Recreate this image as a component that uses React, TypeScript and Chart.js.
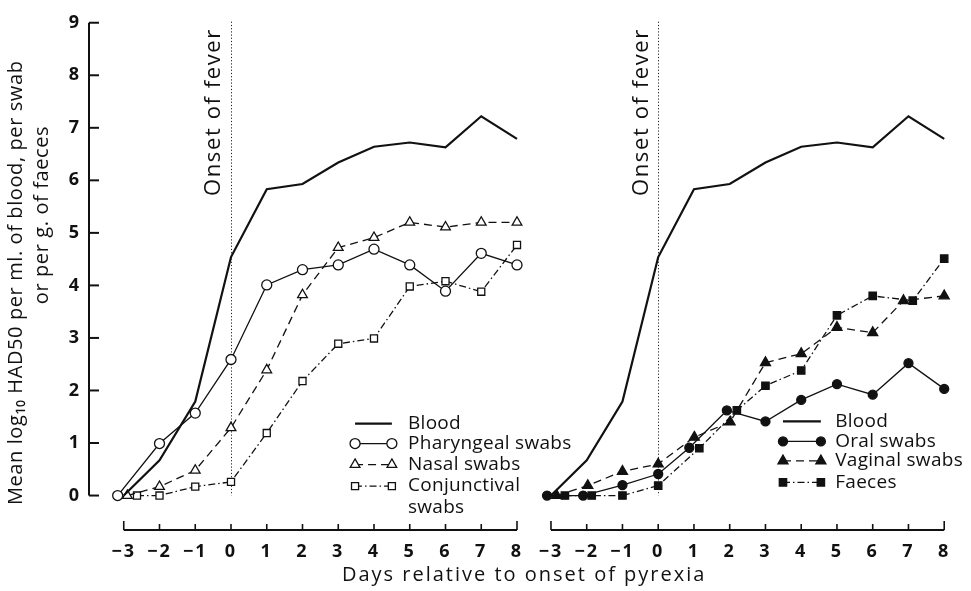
import React, { useEffect, useRef } from "react";
import { Chart, registerables } from "chart.js";

Chart.register(...registerables);

// ---- data (days relative to onset of pyrexia, mean log10 HAD50) ----
const DAYS = [-3, -2, -1, 0, 1, 2, 3, 4, 5, 6, 7, 8];
const Y_TICKS = [0, 1, 2, 3, 4, 5, 6, 7, 8, 9];

const BLOOD = [0, 0.67, 1.79, 4.54, 5.83, 5.93, 6.34, 6.64, 6.72, 6.63, 7.22, 6.79];

const PHARYNGEAL_X = [-3.17, -2, -1, 0, 1, 2, 3, 4, 5, 6, 7, 8];
const PHARYNGEAL = [0, 0.99, 1.57, 2.59, 4.01, 4.3, 4.39, 4.69, 4.39, 3.89, 4.61, 4.39];

const NASAL_X = [-2.9, -2, -1, 0, 1, 2, 3, 4, 5, 6, 7, 8];
const NASAL = [0, 0.17, 0.48, 1.29, 2.39, 3.82, 4.72, 4.91, 5.2, 5.11, 5.2, 5.2];

const CONJUNCTIVAL_X = [-2.63, -2, -1, 0, 1, 2, 3, 4, 5, 6, 7, 8];
const CONJUNCTIVAL = [0, 0, 0.17, 0.26, 1.19, 2.18, 2.89, 2.99, 3.98, 4.08, 3.88, 4.77];

const ORAL_X = [-3.11, -2.1, -1, 0, 0.87, 1.92, 3, 4, 5, 6, 7, 8];
const ORAL = [0, 0, 0.2, 0.41, 0.91, 1.62, 1.41, 1.82, 2.12, 1.92, 2.52, 2.03];

const VAGINAL_X = [-2.84, -1.97, -1, 0, 1.01, 2.01, 3, 4, 5, 6, 6.86, 8];
const VAGINAL = [0, 0.19, 0.46, 0.6, 1.11, 1.4, 2.53, 2.7, 3.2, 3.1, 3.71, 3.8];

const FAECES_X = [-2.61, -1.86, -1, 0, 1.15, 2.2, 3, 4, 5, 6, 7.12, 8];
const FAECES = [0, 0, 0, 0.19, 0.9, 1.62, 2.09, 2.38, 3.43, 3.8, 3.71, 4.51];

const LEFT_LEGEND = ["Blood", "Pharyngeal swabs", "Nasal swabs", "Conjunctival", "swabs"];
const RIGHT_LEGEND = ["Blood", "Oral swabs", "Vaginal swabs", "Faeces"];
const ONSET_LABEL = "Onset of fever";
const Y_TITLE = ["Mean log\u2081\u2080 HAD50 per ml. of blood, per swab", "or per g. of faeces"];
const X_TITLE = "Days relative to onset of pyrexia";

// second panel is drawn on the same x scale, shifted by this many units
const RIGHT_SHIFT = 11.95;

const INK = "#111";
const FONT = "'Open Sans', 'DejaVu Sans', sans-serif";

const pts = (xs: number[], ys: number[], shift = 0) =>
  xs.map((x, i) => ({ x: x + shift, y: ys[i] }));

function drawMarker(ctx: CanvasRenderingContext2D, style: string, x: number, y: number, r: number, filled: boolean) {
  ctx.beginPath();
  if (style === "circle") {
    ctx.arc(x, y, r, 0, Math.PI * 2);
  } else if (style === "triangle") {
    let a = 0;
    ctx.moveTo(x + Math.sin(a) * r, y - Math.cos(a) * r);
    a += (2 * Math.PI) / 3;
    ctx.lineTo(x + Math.sin(a) * r, y - Math.cos(a) * r);
    a += (2 * Math.PI) / 3;
    ctx.lineTo(x + Math.sin(a) * r, y - Math.cos(a) * r);
    ctx.closePath();
  } else if (style === "rect") {
    const s = r * Math.SQRT1_2;
    ctx.rect(x - s, y - s, 2 * s, 2 * s);
  }
  ctx.fillStyle = filled ? INK : "#fff";
  ctx.fill();
  ctx.stroke();
}

const setSpacing = (ctx: any, v: string) => {
  if ("letterSpacing" in ctx) ctx.letterSpacing = v;
};

const decorPlugin = {
  id: "decor",
  beforeDraw(chart: any) {
    // the original typeface is set wide; applies to axis labels/titles
    setSpacing(chart.ctx, "2px");
  },
  beforeDatasetsDraw(chart: any) {
    const { ctx, scales } = chart;
    const x = scales.x, y = scales.y;
    ctx.save();
    ctx.strokeStyle = "#222";
    ctx.lineWidth = 1;
    ctx.setLineDash([1.2, 2]);
    for (const s of [0, RIGHT_SHIFT]) {
      const px = Math.round(x.getPixelForValue(s)) + 0.5;
      ctx.beginPath();
      ctx.moveTo(px, y.getPixelForValue(9.02));
      ctx.lineTo(px, y.getPixelForValue(0));
      ctx.stroke();
    }
    ctx.restore();
  },
  afterDatasetsDraw(chart: any) {
    const { ctx, scales, chartArea } = chart;
    const x = scales.x, y = scales.y;
    ctx.save();
    ctx.strokeStyle = INK;
    ctx.fillStyle = INK;
    ctx.setLineDash([]);

    // y axis line with inward ticks
    const ax = chartArea.left + 1;
    ctx.lineWidth = 2;
    ctx.beginPath();
    ctx.moveTo(ax, y.getPixelForValue(9));
    ctx.lineTo(ax, y.getPixelForValue(0));
    ctx.stroke();
    for (const v of Y_TICKS) {
      const py = y.getPixelForValue(v);
      ctx.beginPath();
      ctx.moveTo(ax, py);
      ctx.lineTo(ax + 10, py);
      ctx.stroke();
    }

    // x axis lines (one per panel) with upward ticks
    const by = chartArea.bottom - 1;
    for (const s of [0, RIGHT_SHIFT]) {
      ctx.lineWidth = 2;
      ctx.beginPath();
      ctx.moveTo(x.getPixelForValue(DAYS[0] + s), by);
      ctx.lineTo(x.getPixelForValue(DAYS[DAYS.length - 1] + s), by);
      ctx.stroke();
      DAYS.forEach((d, i) => {
        const px = x.getPixelForValue(d + s);
        const len = i === 0 || i === DAYS.length - 1 ? 9 : 6;
        ctx.lineWidth = 1.6;
        ctx.beginPath();
        ctx.moveTo(px, by);
        ctx.lineTo(px, by - len);
        ctx.stroke();
      });
    }

    // "Onset of fever" labels
    ctx.font = `22px ${FONT}`;
    setSpacing(ctx, "1.6px");
    ctx.textAlign = "center";
    ctx.textBaseline = "middle";
    for (const s of [0, RIGHT_SHIFT]) {
      ctx.save();
      ctx.translate(x.getPixelForValue(-0.47 + s), y.getPixelForValue(7.3));
      ctx.rotate(-Math.PI / 2);
      ctx.fillText(ONSET_LABEL, 0, 0);
      ctx.restore();
    }

    // y axis title (two lines)
    ctx.font = `20px ${FONT}`;
    setSpacing(ctx, "0.6px");
    ctx.save();
    ctx.translate(16, y.getPixelForValue(4.05));
    ctx.rotate(-Math.PI / 2);
    ctx.fillText(Y_TITLE[0], 0, 0);
    ctx.restore();
    ctx.save();
    ctx.translate(42, y.getPixelForValue(5.34));
    ctx.rotate(-Math.PI / 2);
    ctx.fillText(Y_TITLE[1], 0, 0);
    ctx.restore();

    // legends
    const ds = chart.data.datasets;
    const drawLegend = (labels: string[], idx: (number | null)[], x1: number, x2: number, xt: number, rows: number[]) => {
      const p1 = x.getPixelForValue(x1), p2 = x.getPixelForValue(x2), pt = x.getPixelForValue(xt);
      ctx.font = `19px ${FONT}`;
      setSpacing(ctx, "0.3px");
      ctx.textAlign = "left";
      ctx.textBaseline = "middle";
      labels.forEach((label, i) => {
        const py = y.getPixelForValue(rows[i]);
        const di = idx[i];
        if (di !== null) {
          const d = ds[di];
          ctx.strokeStyle = INK;
          ctx.lineWidth = d.borderWidth;
          ctx.setLineDash(d.borderDash || []);
          ctx.beginPath();
          ctx.moveTo(p1, py);
          ctx.lineTo(p2, py);
          ctx.stroke();
          ctx.setLineDash([]);
          if (d.pointRadius > 0) {
            ctx.lineWidth = d.pointBorderWidth;
            const filled = d.pointBackgroundColor !== "#fff";
            drawMarker(ctx, d.pointStyle, p1, py, d.pointRadius, filled);
            drawMarker(ctx, d.pointStyle, p2, py, d.pointRadius, filled);
          }
        }
        ctx.fillStyle = INK;
        ctx.fillText(label, pt, py);
      });
    };
    drawLegend(LEFT_LEGEND, [0, 1, 2, 3, null], 3.47, 4.5, 4.95, [1.37, 0.99, 0.59, 0.18, -0.23]);
    drawLegend(RIGHT_LEGEND, [7, 4, 5, 6], 3.49 + RIGHT_SHIFT, 4.55 + RIGHT_SHIFT, 4.95 + RIGHT_SHIFT, [1.41, 1.03, 0.66, 0.25]);

    ctx.restore();
  },
  afterDraw(chart: any) {
    setSpacing(chart.ctx, "0px");
  },
};

const line = (data: any[], extra: any) => ({
  data,
  borderColor: INK,
  backgroundColor: INK,
  borderWidth: 1.3,
  pointRadius: 0,
  pointBorderColor: INK,
  pointBorderWidth: 1.3,
  tension: 0,
  fill: false,
  clip: false,
  ...extra,
});

export default function App() {
  const ref = useRef<HTMLCanvasElement | null>(null);

  useEffect(() => {
    document.body.style.margin = "0";
    const canvas = ref.current;
    if (!canvas) return;
    const xTicks = [...DAYS, ...DAYS.map((d) => d + RIGHT_SHIFT)];

    const chart = new Chart(canvas, {
      type: "line",
      data: {
        datasets: [
          line(pts(DAYS, BLOOD), { label: "Blood", borderWidth: 2.2 }),
          line(pts(PHARYNGEAL_X, PHARYNGEAL), {
            label: "Pharyngeal swabs", pointStyle: "circle", pointRadius: 5, pointBackgroundColor: "#fff",
          }),
          line(pts(NASAL_X, NASAL), {
            label: "Nasal swabs", borderDash: [8, 5], pointStyle: "triangle", pointRadius: 5.6, pointBackgroundColor: "#fff",
          }),
          line(pts(CONJUNCTIVAL_X, CONJUNCTIVAL), {
            label: "Conjunctival swabs", borderDash: [7, 3, 1.5, 3], pointStyle: "rect", pointRadius: 5, pointBackgroundColor: "#fff",
          }),
          line(pts(ORAL_X, ORAL, RIGHT_SHIFT), {
            label: "Oral swabs", pointStyle: "circle", pointRadius: 4.5, pointBackgroundColor: INK,
          }),
          line(pts(VAGINAL_X, VAGINAL, RIGHT_SHIFT), {
            label: "Vaginal swabs", borderDash: [8, 5], pointStyle: "triangle", pointRadius: 5.8, pointBackgroundColor: INK,
          }),
          line(pts(FAECES_X, FAECES, RIGHT_SHIFT), {
            label: "Faeces", borderDash: [7, 3, 1.5, 3], pointStyle: "rect", pointRadius: 5.2, pointBackgroundColor: INK,
          }),
          line(pts(DAYS, BLOOD, RIGHT_SHIFT), { label: "Blood (right)", borderWidth: 2.2 }),
        ],
      },
      options: {
        animation: false,
        responsive: false,
        maintainAspectRatio: false,
        layout: { padding: { top: 10, right: 10.7, left: 0, bottom: 0 }, autoPadding: false },
        plugins: { legend: { display: false }, tooltip: { enabled: false }, title: { display: false } },
        scales: {
          x: {
            type: "linear",
            min: -4,
            max: 20.4,
            grid: { display: false, drawTicks: false },
            border: { display: false },
            afterFit: (s: any) => { s.height = 60; },
            afterBuildTicks: (s: any) => { s.ticks = xTicks.map((v) => ({ value: v })); },
            ticks: {
              autoSkip: false,
              maxRotation: 0,
              padding: 10,
              color: INK,
              font: { family: FONT, size: 18, weight: "bold" },
              callback: (value: any) => {
                const v = Math.round(value > 8.5 ? value - RIGHT_SHIFT : value);
                return v < 0 ? "\u2212" + Math.abs(v) : String(v);
              },
            },
            title: {
              display: true,
              text: X_TITLE,
              color: INK,
              font: { family: FONT, size: 20 },
              padding: { top: 0, bottom: 4 },
            },
          },
          y: {
            type: "linear",
            min: -0.675,
            max: 9.094,
            grid: { display: false, drawTicks: false },
            border: { display: false },
            afterFit: (s: any) => { s.width = 88; },
            afterBuildTicks: (s: any) => { s.ticks = Y_TICKS.map((v) => ({ value: v })); },
            ticks: {
              padding: 7,
              color: INK,
              font: { family: FONT, size: 18, weight: "bold" },
            },
          },
        },
      },
      plugins: [decorPlugin],
    } as any);

    return () => chart.destroy();
  }, []);

  return (
    <div style={{ width: 971, height: 591, background: "#fff" }}>
      <canvas ref={ref} width={971} height={591} />
    </div>
  );
}
